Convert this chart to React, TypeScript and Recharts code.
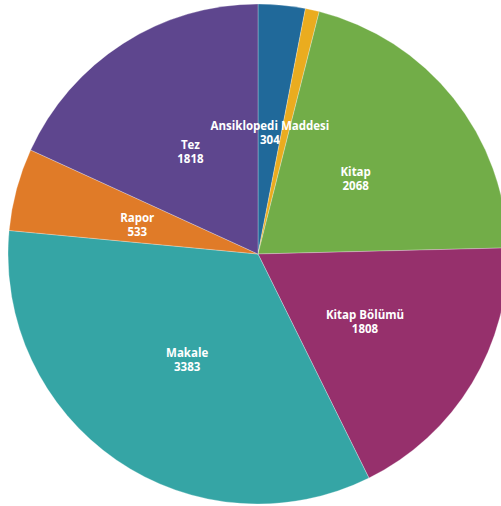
import React from 'react';
import { PieChart, Pie, Cell } from 'recharts';

const categories = ['Ansiklopedi Maddesi', 'Diğer', 'Kitap', 'Kitap Bölümü', 'Makale', 'Rapor', 'Tez'];
const counts = [304, 90, 2068, 1808, 3383, 533, 1818];
const COLORS = ['#20699a', '#eaac1f', '#72ad48', '#96306c', '#35a5a5', '#e07b28', '#5e468e'];
const hideLabel = [false, true, false, false, false, false, false];

const data = categories.map((name, i) => ({ name, value: counts[i] }));

const RADIAN = Math.PI / 180;

const renderLabel = (props: any) => {
  const { cx, cy, midAngle, outerRadius, index, name, value } = props;
  if (hideLabel[index]) return null;
  const r = outerRadius * 0.5;
  const x = cx + r * Math.cos(-midAngle * RADIAN);
  const y = cy + r * Math.sin(-midAngle * RADIAN) + 2;
  return (
    <text
      x={x}
      y={y}
      fill="#fff"
      textAnchor="middle"
      dominantBaseline="central"
      style={{ fontFamily: '"Open Sans", sans-serif', fontSize: 11.5, fontWeight: 700 }}
    >
      <tspan x={x} y={y - 6.5}>{name}</tspan>
      <tspan x={x} y={y + 7.5}>{value}</tspan>
    </text>
  );
};

export default function App() {
  return (
    <div style={{ position: 'fixed', left: 0, top: 0, width: 501, height: 506, overflow: 'hidden', background: '#fff' }}>
      <PieChart width={520} height={510} margin={{ top: 0, right: 0, bottom: 0, left: 0 }}>
        <Pie
          data={data}
          dataKey="value"
          nameKey="name"
          cx={258}
          cy={254}
          outerRadius={250}
          startAngle={90}
          endAngle={-270}
          stroke="rgba(255,255,255,0.45)"
          strokeWidth={0.6}
          labelLine={false}
          label={renderLabel}
          isAnimationActive={false}
        >
          {data.map((entry, index) => (
            <Cell key={`cell-${index}`} fill={COLORS[index % COLORS.length]} />
          ))}
        </Pie>
      </PieChart>
    </div>
  );
}
